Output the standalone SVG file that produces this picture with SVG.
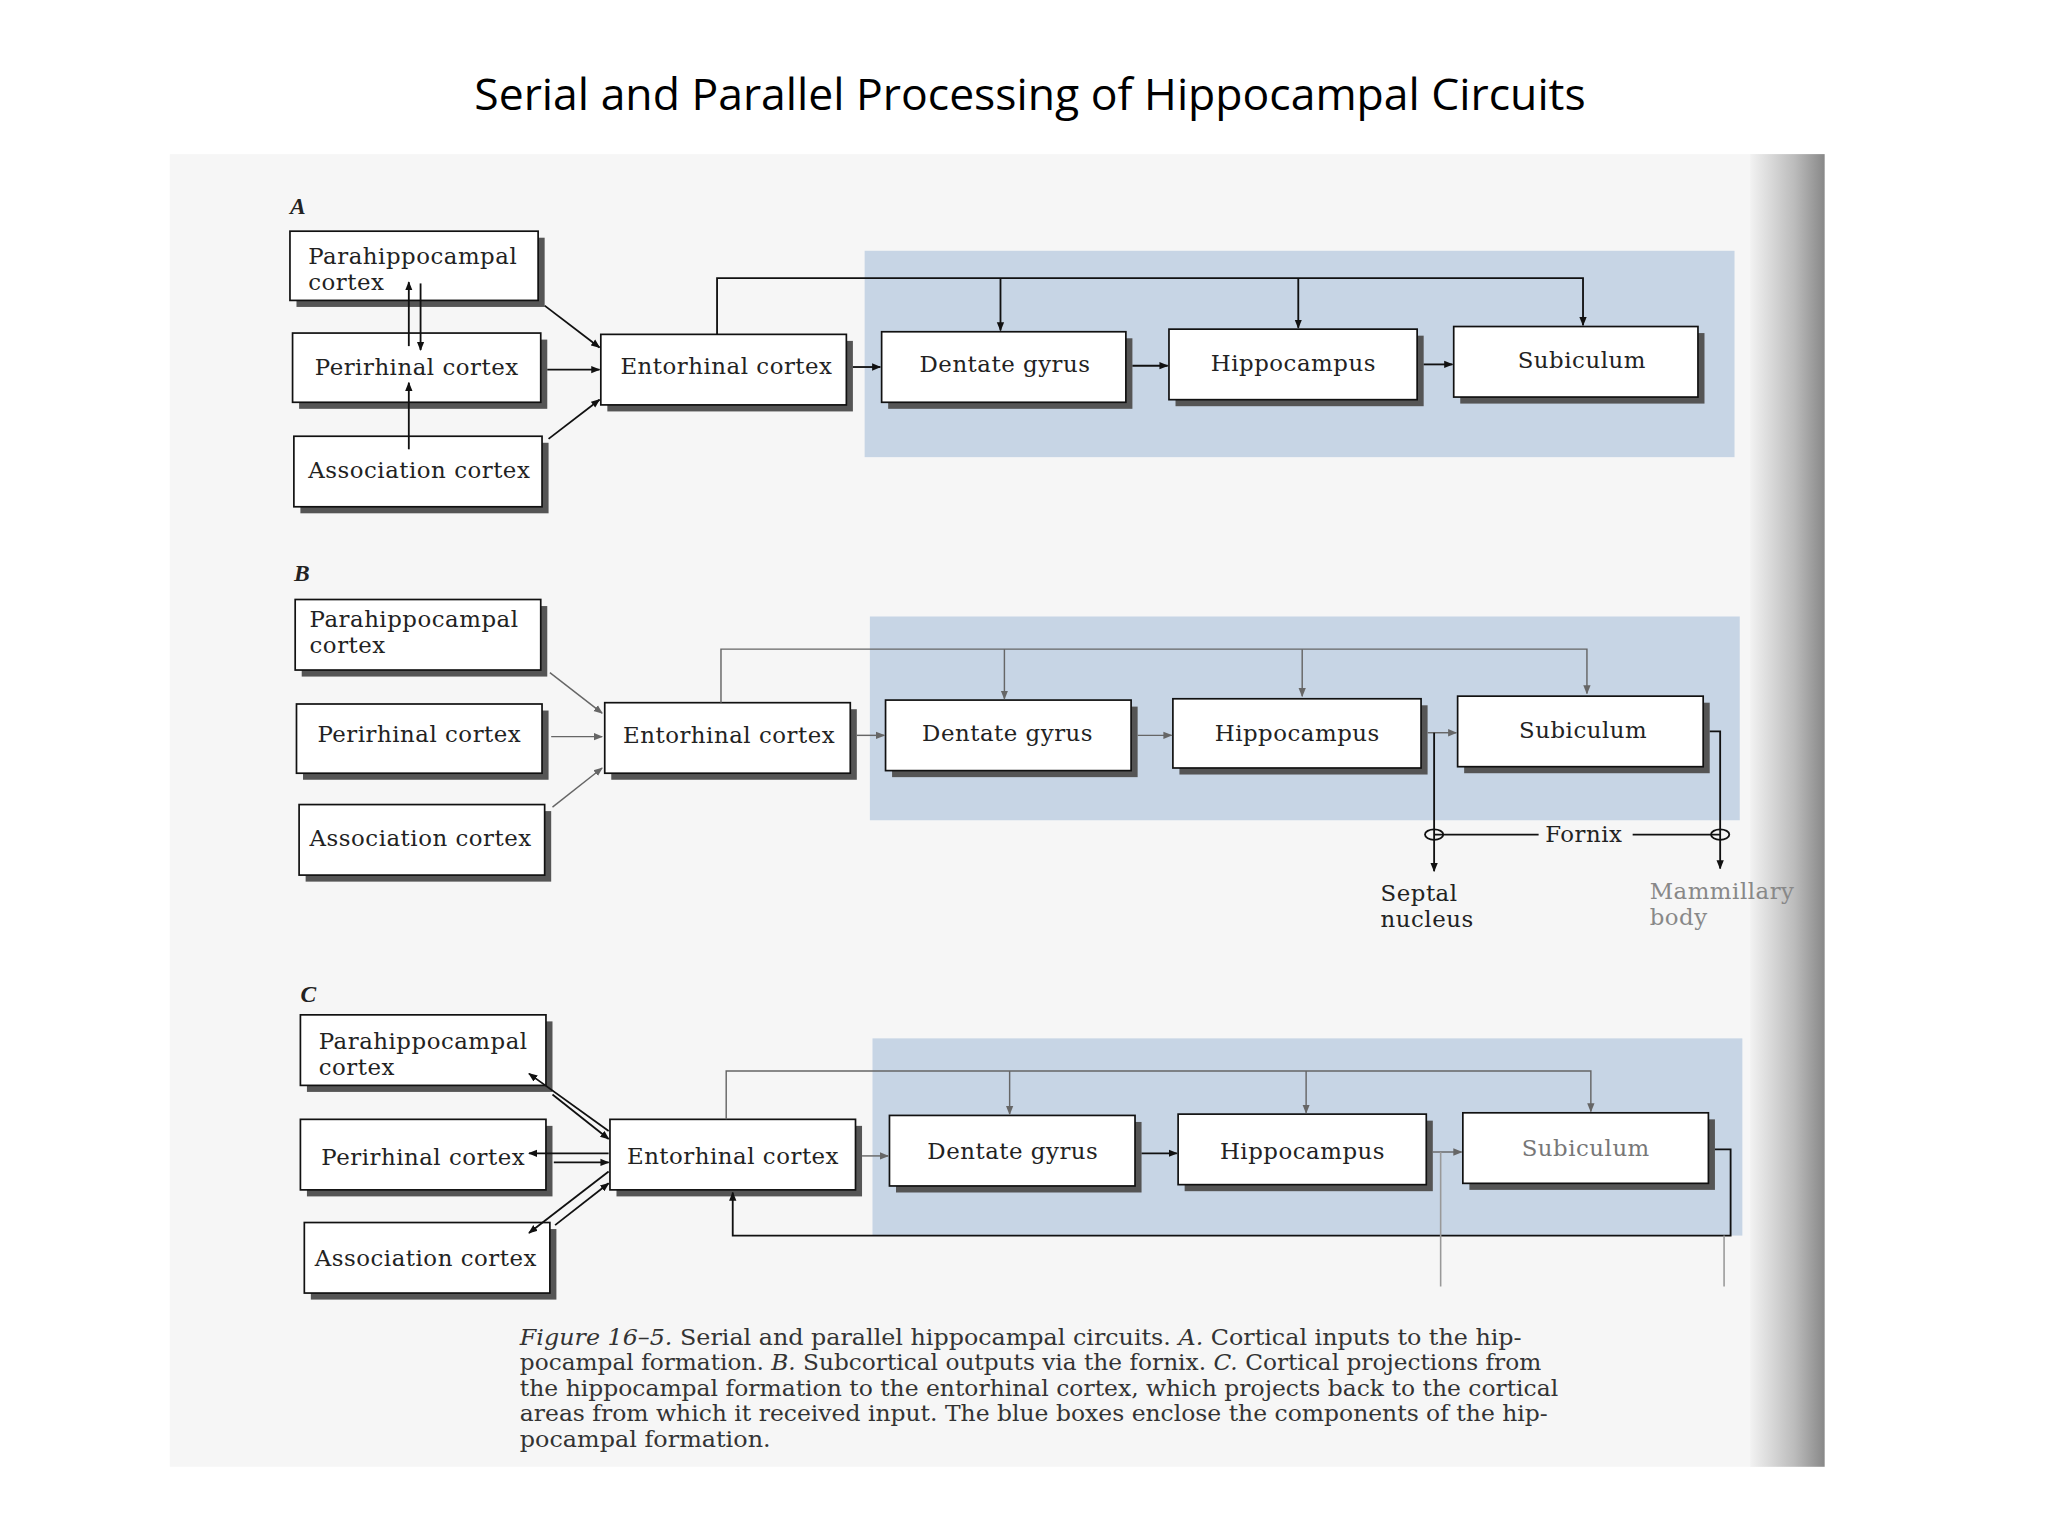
<svg xmlns="http://www.w3.org/2000/svg" width="2048" height="1536" viewBox="0 0 2048 1536">
<defs>
<marker id="ah" viewBox="0 0 10 10" refX="9" refY="5" markerWidth="7" markerHeight="7" orient="auto-start-reverse" markerUnits="userSpaceOnUse"><path d="M0,1 L10,5 L0,9 z" fill="#111"/></marker>
<marker id="ahg" viewBox="0 0 10 10" refX="9" refY="5" markerWidth="7" markerHeight="7" orient="auto-start-reverse" markerUnits="userSpaceOnUse"><path d="M0,1 L10,5 L0,9 z" fill="#666"/></marker>
<linearGradient id="edge" x1="0" x2="1" y1="0" y2="0"><stop offset="0" stop-color="#f2f2f2"/><stop offset="0.6" stop-color="#bbb"/><stop offset="1" stop-color="#888"/></linearGradient>
<style>
.bx{fill:#fff;stroke:#111;stroke-width:1.3}
.sh{fill:#555}
.t{font-family:"DejaVu Serif",serif;font-size:17.5px;letter-spacing:0.4px;fill:#222}
.lbl{font-family:"Liberation Serif",serif;font-size:18px;font-style:italic;font-weight:bold;fill:#222}
.c{fill:none;stroke:#111;stroke-width:1.4}
.cg{fill:none;stroke:#666;stroke-width:1.1}
.blue{fill:#c7d5e5}
.cap{font-family:"DejaVu Serif",serif;font-size:16.5px;fill:#333}
</style>
</defs>
<rect width="2048" height="1536" fill="#fff"/>
<text x="1030" y="110" text-anchor="middle" font-family="Open Sans, sans-serif" font-size="44.5" fill="#000">Serial and Parallel Processing of Hippocampal Circuits</text>
<g transform="scale(1.30612)">
<rect x="130" y="118" width="1267" height="1005" fill="#f6f6f6"/>
<rect x="1340" y="118" width="57" height="1005" fill="url(#edge)"/>
<g id="panelA">
<rect class="blue" x="662" y="192" width="666" height="158"/>
<text class="lbl" x="222" y="164">A</text>
<g id="A_para"><rect class="sh" x="227" y="182" width="190" height="53"/><rect class="bx" x="222" y="177" width="190" height="53"/><text class="t" x="236" y="202">Parahippocampal</text><text class="t" x="236" y="222">cortex</text></g>
<g id="A_peri"><rect class="sh" x="229" y="260" width="190" height="53"/><rect class="bx" x="224" y="255" width="190" height="53"/><text class="t" x="241" y="287">Perirhinal cortex</text></g>
<g id="A_assoc"><rect class="sh" x="230" y="339" width="190" height="54"/><rect class="bx" x="225" y="334" width="190" height="54"/><text class="t" x="236" y="366">Association cortex</text></g>
<g id="A_ento"><rect class="sh" x="465" y="261" width="188" height="54"/><rect class="bx" x="460" y="256" width="188" height="54"/><text class="t" x="475" y="286">Entorhinal cortex</text></g>
<g id="A_dent"><rect class="sh" x="680" y="259" width="187" height="54"/><rect class="bx" x="675" y="254" width="187" height="54"/><text class="t" x="704" y="285">Dentate gyrus</text></g>
<g id="A_hippo"><rect class="sh" x="900" y="257" width="190" height="54"/><rect class="bx" x="895" y="252" width="190" height="54"/><text class="t" x="927" y="284">Hippocampus</text></g>
<g id="A_sub"><rect class="sh" x="1118" y="255" width="187" height="54"/><rect class="bx" x="1113" y="250" width="187" height="54"/><text class="t" x="1162" y="282">Subiculum</text></g>
</g>
<g id="connectorsA">
<path class="c" d="M313,265 V216" marker-end="url(#ah)"/>
<path class="c" d="M322,217 V268" marker-end="url(#ah)"/>
<path class="c" d="M313,344 V293" marker-end="url(#ah)"/>
<path class="c" d="M417,234 L459,266" marker-end="url(#ah)"/>
<path class="c" d="M419,283 H459" marker-end="url(#ah)"/>
<path class="c" d="M420,336 L459,306" marker-end="url(#ah)"/>
<path class="c" d="M653,281 H674" marker-end="url(#ah)"/>
<path class="c" d="M867,280 H894" marker-end="url(#ah)"/>
<path class="c" d="M1090,279 H1112" marker-end="url(#ah)"/>
<path class="c" d="M549,256 V213 H1212 V249" marker-end="url(#ah)"/>
<path class="c" d="M766,213 V253" marker-end="url(#ah)"/>
<path class="c" d="M994,213 V251" marker-end="url(#ah)"/>
</g>
<g id="panelB">
<rect class="blue" x="666" y="472" width="666" height="156"/>
<text class="lbl" x="225" y="445">B</text>
<g id="B_para"><rect class="sh" x="231" y="464" width="188" height="54"/><rect class="bx" x="226" y="459" width="188" height="54"/><text class="t" x="237" y="480">Parahippocampal</text><text class="t" x="237" y="500">cortex</text></g>
<g id="B_peri"><rect class="sh" x="232" y="544" width="188" height="53"/><rect class="bx" x="227" y="539" width="188" height="53"/><text class="t" x="243" y="568">Perirhinal cortex</text></g>
<g id="B_assoc"><rect class="sh" x="234" y="621" width="188" height="54"/><rect class="bx" x="229" y="616" width="188" height="54"/><text class="t" x="237" y="648">Association cortex</text></g>
<g id="B_ento"><rect class="sh" x="468" y="543" width="188" height="54"/><rect class="bx" x="463" y="538" width="188" height="54"/><text class="t" x="477" y="569">Entorhinal cortex</text></g>
<g id="B_dent"><rect class="sh" x="683" y="541" width="188" height="54"/><rect class="bx" x="678" y="536" width="188" height="54"/><text class="t" x="706" y="567">Dentate gyrus</text></g>
<g id="B_hippo"><rect class="sh" x="903" y="540" width="190" height="53"/><rect class="bx" x="898" y="535" width="190" height="53"/><text class="t" x="930" y="567">Hippocampus</text></g>
<g id="B_sub"><rect class="sh" x="1121" y="538" width="188" height="54"/><rect class="bx" x="1116" y="533" width="188" height="54"/><text class="t" x="1163" y="565">Subiculum</text></g>
<text class="t" x="1183" y="645">Fornix</text>
<text class="t" x="1057" y="690">Septal</text><text class="t" x="1057" y="710">nucleus</text>
<text class="t" x="1263" y="688" style="fill:#888">Mammillary</text><text class="t" x="1263" y="708" style="fill:#888">body</text>
</g>
<g id="connectorsB">
<path class="cg" d="M421,515 L461,546" marker-end="url(#ahg)"/>
<path class="cg" d="M422,564 H461" marker-end="url(#ahg)"/>
<path class="cg" d="M423,618 L461,588" marker-end="url(#ahg)"/>
<path class="cg" d="M656,563 H677" marker-end="url(#ahg)"/>
<path class="cg" d="M871,563 H897" marker-end="url(#ahg)"/>
<path class="cg" d="M1093,561 H1115" marker-end="url(#ahg)"/>
<path class="cg" d="M552,538 V497 H1215 V531" marker-end="url(#ahg)"/>
<path class="cg" d="M769,497 V535" marker-end="url(#ahg)"/>
<path class="cg" d="M997,497 V533" marker-end="url(#ahg)"/>
<path class="c" d="M1098,561 V667" marker-end="url(#ah)"/>
<path class="c" d="M1309,560 H1317 V665" marker-end="url(#ah)"/>
<path class="c" d="M1098,639 H1178 M1250,639 H1317"/>
<ellipse class="c" cx="1098" cy="639" rx="7" ry="4"/>
<ellipse class="c" cx="1317" cy="639" rx="7" ry="4"/>
</g>
<g id="panelC">
<rect class="blue" x="668" y="795" width="666" height="151"/>
<text class="lbl" x="230" y="767">C</text>
<g id="C_para"><rect class="sh" x="235" y="782" width="188" height="54"/><rect class="bx" x="230" y="777" width="188" height="54"/><text class="t" x="244" y="803">Parahippocampal</text><text class="t" x="244" y="823">cortex</text></g>
<g id="C_peri"><rect class="sh" x="235" y="862" width="188" height="54"/><rect class="bx" x="230" y="857" width="188" height="54"/><text class="t" x="246" y="892">Perirhinal cortex</text></g>
<g id="C_assoc"><rect class="sh" x="238" y="941" width="188" height="54"/><rect class="bx" x="233" y="936" width="188" height="54"/><text class="t" x="241" y="969">Association cortex</text></g>
<g id="C_ento"><rect class="sh" x="472" y="862" width="188" height="54"/><rect class="bx" x="467" y="857" width="188" height="54"/><text class="t" x="480" y="891">Entorhinal cortex</text></g>
<g id="C_dent"><rect class="sh" x="686" y="859" width="188" height="54"/><rect class="bx" x="681" y="854" width="188" height="54"/><text class="t" x="710" y="887">Dentate gyrus</text></g>
<g id="C_hippo"><rect class="sh" x="907" y="858" width="190" height="54"/><rect class="bx" x="902" y="853" width="190" height="54"/><text class="t" x="934" y="887">Hippocampus</text></g>
<g id="C_sub"><rect class="sh" x="1125" y="857" width="188" height="54"/><rect class="bx" x="1120" y="852" width="188" height="54"/><text class="t" x="1165" y="885" style="fill:#777">Subiculum</text></g>
</g>
<g id="connectorsC">
<path class="c" d="M466,866 L405,822" marker-end="url(#ah)"/>
<path class="c" d="M423,838 L466,872" marker-end="url(#ah)"/>
<path class="c" d="M466,883 H405" marker-end="url(#ah)"/>
<path class="c" d="M424,890 H466" marker-end="url(#ah)"/>
<path class="c" d="M466,897 L405,944" marker-end="url(#ah)"/>
<path class="c" d="M425,938 L466,906" marker-end="url(#ah)"/>
<path class="cg" d="M660,885 H680" marker-end="url(#ahg)"/>
<path class="c" d="M874,883 H901" marker-end="url(#ah)"/>
<path class="cg" d="M1097,882 H1119" marker-end="url(#ahg)"/>
<path class="cg" d="M556,857 V820 H1218 V851" marker-end="url(#ahg)"/>
<path class="cg" d="M773,820 V853" marker-end="url(#ahg)"/>
<path class="cg" d="M1000,820 V852" marker-end="url(#ahg)"/>
<path class="c" d="M1313,880 H1325 V946 H561 V913" marker-end="url(#ah)"/>
<path d="M1103,882 V985 M1320,946 V985" stroke="#999" stroke-width="1.2" fill="none"/>
</g>
<g id="caption">
<text class="cap" x="398" y="1030" textLength="767" lengthAdjust="spacingAndGlyphs"><tspan font-style="italic">Figure 16–5.</tspan>   Serial and parallel hippocampal circuits. <tspan font-style="italic">A.</tspan> Cortical inputs to the hip-</text>
<text class="cap" x="398" y="1049" textLength="782" lengthAdjust="spacingAndGlyphs">pocampal formation. <tspan font-style="italic">B.</tspan> Subcortical outputs via the fornix. <tspan font-style="italic">C.</tspan> Cortical projections from</text>
<text class="cap" x="398" y="1069" textLength="795" lengthAdjust="spacingAndGlyphs">the hippocampal formation to the entorhinal cortex, which projects back to the cortical</text>
<text class="cap" x="398" y="1088" textLength="787" lengthAdjust="spacingAndGlyphs">areas from which it received input. The blue boxes enclose the components of the hip-</text>
<text class="cap" x="398" y="1108" textLength="192" lengthAdjust="spacingAndGlyphs">pocampal formation.</text>
</g>
</g>
</svg>
